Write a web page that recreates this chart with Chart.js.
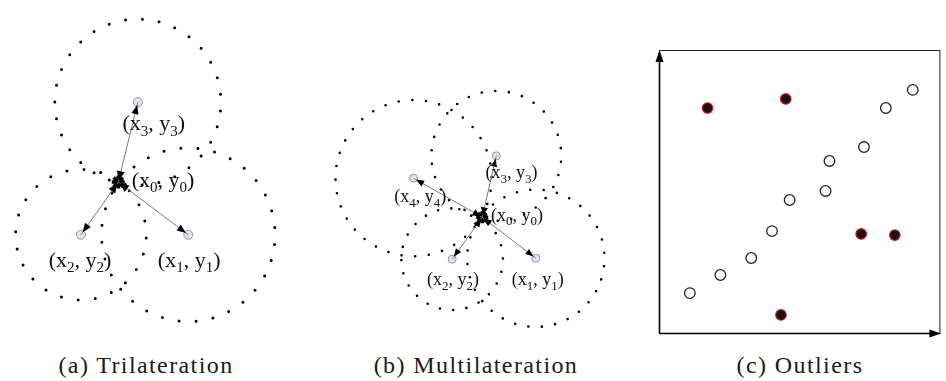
<!DOCTYPE html>
<html>
<head>
<meta charset="utf-8">
<script src="https://cdn.jsdelivr.net/npm/chart.js@4.4.0/dist/chart.umd.min.js"></script>
<style>
body { margin: 0; background: #fff; width: 946px; height: 381px; position: relative; overflow: hidden; }
canvas { position: absolute; }
.cap { position: absolute; top: 353px; width: 300px; line-height: 24px; font-size: 24px; font-family: "Liberation Serif", "Times New Roman", "DejaVu Serif", serif; letter-spacing: 1.4px; text-align: center; white-space: nowrap; color: #1a1a1a; }
</style>
</head>
<body>
<canvas id="tri" width="300" height="335" style="left:0;top:0"></canvas>
<canvas id="multi" width="320" height="275" style="left:310px;top:70px"></canvas>
<canvas id="outl" width="296" height="300" style="left:650px;top:40px"></canvas>
<div class="cap" id="cap0" style="left:-4px"></div>
<div class="cap" id="cap1" style="left:326px"></div>
<div class="cap" id="cap2" style="left:650px"></div>
<script>
// (a) trilateration: index 0 is the unknown node, 1..3 the anchors
const triIds = ['0', '1', '2', '3'];
const triX = [11.6, 19.1, 7.6, 13.7];
const triY = [15.2, 9.6, 9.6, 23.7];
const triRange = [0, 9.3, 7.0, 8.9];
const triTextX = [16.4, 19.2, 7.5, 15.4];
const triTextY = [15.3, 6.8, 6.8, 21.3];

// (b) multilateration
const multiIds = ['0', '1', '2', '3', '4'];
const multiX = [17.3, 23.0, 14.1, 18.8, 10.0];
const multiY = [12.7, 8.3, 8.2, 19.3, 16.9];
const multiRange = [0, 7.3, 5.4, 6.9, 8.3];
const multiTextX = [21.0, 23.2, 14.2, 20.4, 10.7];
const multiTextY = [12.8, 5.9, 5.9, 17.4, 14.8];

// (c) outliers
const inlierX = [1.10, 2.19, 3.29, 4.03, 4.66, 5.94, 6.08, 7.31, 8.09, 9.05];
const inlierY = [1.41, 2.05, 2.65, 3.60, 4.70, 5.02, 6.08, 6.57, 7.95, 8.59];
const outlierX = [1.73, 4.52, 7.21, 8.41, 4.35];
const outlierY = [7.95, 8.27, 3.50, 3.46, 0.64];

const captions = ['(a) Trilateration', '(b) Multilateration', '(c) Outliers'];

const SERIF = '"Liberation Serif", "Times New Roman", "DejaVu Serif", serif';

captions.forEach((c, i) => document.getElementById('cap' + i).textContent = c);

const arrowHead = (ctx, fx, fy, tx, ty, len, half) => {
	const a = Math.atan2(ty - fy, tx - fx);
	ctx.beginPath();
	ctx.moveTo(tx, ty);
	ctx.lineTo(tx - len * Math.cos(a) + half * Math.sin(a), ty - len * Math.sin(a) - half * Math.cos(a));
	ctx.lineTo(tx - len * Math.cos(a) - half * Math.sin(a), ty - len * Math.sin(a) + half * Math.cos(a));
	ctx.closePath();
	ctx.fill();
}

const drawLabel = (ctx, cx, cy, id, size) => {
	const sub = Math.round(size * 0.7);
	const parts = [['(x', size, 0], [id, sub, 0.24], [', y', size, 0], [id, sub, 0.24], [')', size, 0]];
	let w = 0;
	parts.forEach(p => {
		ctx.font = p[1] + 'px ' + SERIF;
		p.push(ctx.measureText(p[0]).width);
		w += p[3];
	});
	let x = cx - w / 2;
	const base = cy + size * 0.26;
	ctx.fillStyle = '#111';
	ctx.textBaseline = 'alphabetic';
	ctx.textAlign = 'left';
	parts.forEach(p => {
		ctx.font = p[1] + 'px ' + SERIF;
		ctx.fillText(p[0], x, base + p[2] * size);
		x += p[3];
	});
}

// dotted range circles, arrows and labels, all placed through the scales
const rangePlugin = {
	id: 'ranges',
	beforeDatasetsDraw(chart, args, opts) {
		const { ctx, scales: { x, y } } = chart;
		ctx.save();
		ctx.strokeStyle = '#000';
		ctx.lineWidth = opts.dot;
		ctx.lineCap = 'round';
		opts.xs.forEach((v, i) => {
			if (!opts.r[i]) return;
			const px = x.getPixelForValue(v), py = y.getPixelForValue(opts.ys[i]);
			const pr = x.getPixelForValue(v + opts.r[i]) - px;
			const circ = 2 * Math.PI * pr;
			ctx.setLineDash([0, circ / Math.round(circ / opts.gap)]);
			ctx.beginPath();
			ctx.arc(px, py, pr, opts.phase, opts.phase + 2 * Math.PI);
			ctx.stroke();
		});
		ctx.restore();
	},
	afterDatasetsDraw(chart, args, opts) {
		const { ctx, scales: { x, y } } = chart;
		const cx = x.getPixelForValue(opts.xs[0]), cy = y.getPixelForValue(opts.ys[0]);
		ctx.save();
		ctx.fillStyle = '#000';
		opts.xs.forEach((v, i) => {
			if (i === 0) return;
			const px = x.getPixelForValue(v), py = y.getPixelForValue(opts.ys[i]);
			const d = Math.hypot(px - cx, py - cy);
			const ux = (px - cx) / d, uy = (py - cy) / d;
			arrowHead(ctx, cx, cy, px - ux * 3, py - uy * 3, opts.head, opts.head * 0.4);
			arrowHead(ctx, px, py, cx + ux * 2, cy + uy * 2, opts.head, opts.head * 0.45);
		});
		opts.tx.forEach((v, i) => {
			drawLabel(ctx, x.getPixelForValue(v), y.getPixelForValue(opts.ty[i]), opts.ids[i], opts.font);
		});
		ctx.restore();
	}
};

const locChart = (id, ids, xs, ys, r, tx, ty, w, h, extra) => {
	const arrows = xs.slice(1).map((v, i) => ({
		data: [{ x: xs[0], y: ys[0] }, { x: v, y: ys[i + 1] }],
		showLine: true,
		borderColor: '#7a7a7a',
		borderWidth: 1,
		pointRadius: 0,
		clip: false
	}));
	return new Chart(document.getElementById(id), {
		type: 'scatter',
		data: {
			datasets: [
				...arrows,
				{
					data: xs.slice(1).map((v, i) => ({ x: v, y: ys[i + 1] })),
					pointRadius: extra.anchor,
					backgroundColor: '#dfe5f1',
					borderColor: '#8d95a6',
					borderWidth: 1,
					clip: false
				},
				{
					data: [{ x: xs[0], y: ys[0] }],
					pointStyle: 'star',
					pointRadius: extra.star,
					borderColor: '#000',
					borderWidth: 3.5,
					clip: false
				}
			]
		},
		options: {
			responsive: false,
			animation: false,
			events: [],
			layout: { padding: 0 },
			scales: {
				x: { type: 'linear', min: 0, max: w, display: false },
				y: { type: 'linear', min: 0, max: h, display: false }
			},
			plugins: {
				legend: { display: false },
				tooltip: { enabled: false },
				ranges: Object.assign({ ids, xs, ys, r, tx, ty }, extra)
			}
		},
		plugins: [rangePlugin]
	});
}

locChart('tri', triIds, triX, triY, triRange, triTextX, triTextY, 30, 33.5,
	{ dot: 3, gap: 17, phase: 0.3, head: 9, font: 22, anchor: 4.5, star: 6.5 });
locChart('multi', multiIds, multiX, multiY, multiRange, multiTextX, multiTextY, 32, 27.5,
	{ dot: 2.6, gap: 13.5, phase: 0.5, head: 8, font: 18, anchor: 4, star: 6 });

// frame with arrowed axes for panel (c)
const framePlugin = {
	id: 'frame',
	beforeDatasetsDraw(chart) {
		const { ctx, chartArea: { left, top, right, bottom } } = chart;
		ctx.save();
		ctx.strokeStyle = '#222';
		ctx.lineWidth = 1;
		ctx.strokeRect(left + 0.5, top + 0.5, right - left, bottom - top);
		ctx.strokeStyle = '#000';
		ctx.lineWidth = 1.6;
		ctx.beginPath();
		ctx.moveTo(left + 0.5, bottom + 0.5);
		ctx.lineTo(left + 0.5, top + 8);
		ctx.moveTo(left + 0.5, bottom + 0.5);
		ctx.lineTo(right - 8, bottom + 0.5);
		ctx.stroke();
		ctx.fillStyle = '#000';
		arrowHead(ctx, left + 0.5, bottom, left + 0.5, top, 12, 4);
		arrowHead(ctx, left, bottom + 0.5, right + 2, bottom + 0.5, 12, 4);
		ctx.restore();
	}
};

new Chart(document.getElementById('outl'), {
	type: 'scatter',
	data: {
		datasets: [
			{
				data: inlierX.map((v, i) => ({ x: v, y: inlierY[i] })),
				pointRadius: 5.3,
				backgroundColor: '#fff',
				borderColor: '#222',
				borderWidth: 1.3,
				clip: false
			},
			{
				data: outlierX.map((v, i) => ({ x: v, y: outlierY[i] })),
				pointRadius: 5.3,
				backgroundColor: '#141414',
				borderColor: '#e3121b',
				borderWidth: 1.1,
				clip: false
			}
		]
	},
	options: {
		responsive: false,
		animation: false,
		events: [],
		layout: { padding: { left: 9, top: 10, right: 4, bottom: 7 } },
		scales: {
			x: { type: 'linear', min: 0, max: 10, display: false },
			y: { type: 'linear', min: 0, max: 10, display: false }
		},
		plugins: { legend: { display: false }, tooltip: { enabled: false } }
	},
	plugins: [framePlugin]
});
</script>
</body>
</html>
